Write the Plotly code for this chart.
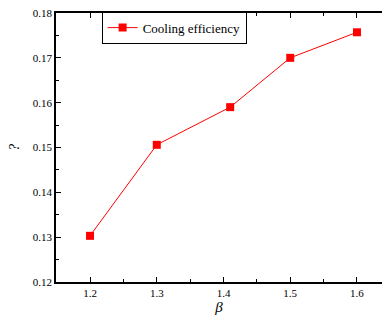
import plotly.graph_objects as go

beta = [1.2, 1.3, 1.41, 1.5, 1.6]
eff = [0.1303, 0.1506, 0.1590, 0.1700, 0.1757]
series_name = "Cooling efficiency"

font_family = "Liberation Serif, Times New Roman, serif"

fig = go.Figure()
fig.add_trace(go.Scatter(
    x=beta, y=eff, mode="lines+markers", name=series_name,
    line=dict(color="#ff0000", width=1),
    marker=dict(symbol="square", size=8, color="#ff0000"),
))

fig.update_layout(
    width=382, height=320,
    margin=dict(l=56, r=0, t=13, b=38),
    paper_bgcolor="white", plot_bgcolor="white",
    font=dict(family=font_family, size=11, color="black"),
    showlegend=True,
    legend=dict(x=0.14, y=1.005, xanchor="left", yanchor="top",
                bordercolor="black", borderwidth=1, bgcolor="white",
                font=dict(family=font_family, size=13),
                itemwidth=30, tracegroupgap=0),
    xaxis=dict(range=[1.149, 1.6375], tickvals=[1.2, 1.3, 1.4, 1.5, 1.6],
               ticktext=["1.2", "1.3", "1.4", "1.5", "1.6"],
               ticks="inside", ticklen=5, tickwidth=1, tickcolor="black",
               minor=dict(tickvals=[1.25, 1.35, 1.45, 1.55], ticks="inside", ticklen=3, tickcolor="black"),
               showline=True, linecolor="black", linewidth=1.5, mirror="ticks",
               showgrid=False, zeroline=False,
               title=dict(text="<i>β</i>", font=dict(family=font_family, size=15), standoff=4)),
    yaxis=dict(range=[0.12, 0.18], tickvals=[0.12, 0.13, 0.14, 0.15, 0.16, 0.17, 0.18],
               ticktext=["0.12", "0.13", "0.14", "0.15", "0.16", "0.17", "0.18"],
               ticks="inside", ticklen=5, tickwidth=1, tickcolor="black",
               minor=dict(tickvals=[0.125, 0.135, 0.145, 0.155, 0.165, 0.175], ticks="inside", ticklen=3, tickcolor="black"),
               showline=True, linecolor="black", linewidth=1.5,
               showgrid=False, zeroline=False,
               title=dict(text="<i>?</i>", font=dict(family=font_family, size=14), standoff=10)),
)

fig.write_html("out.html")
